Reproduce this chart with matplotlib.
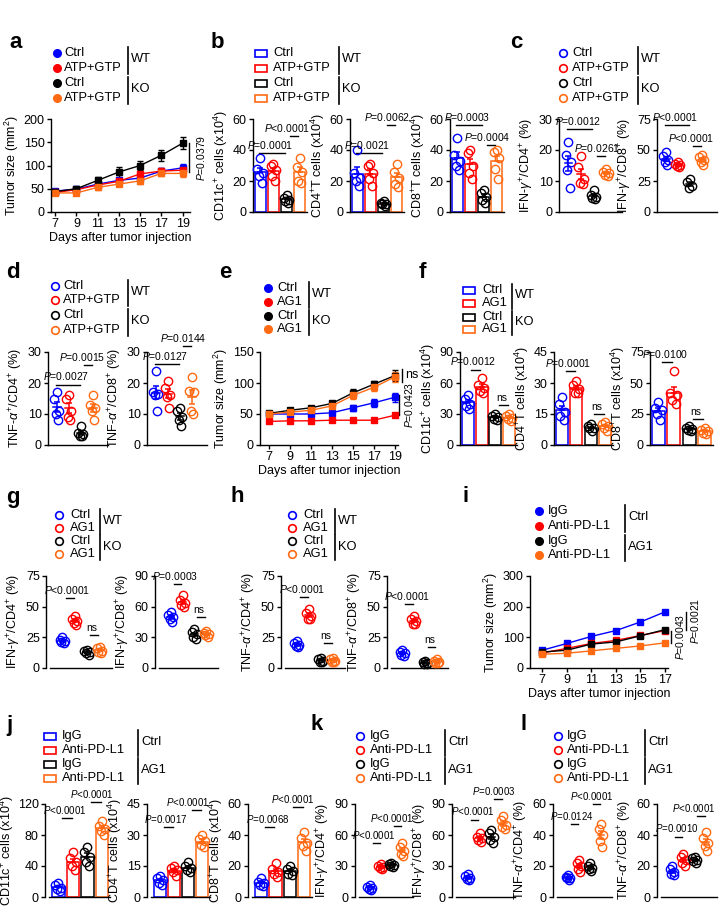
import numpy as np
import matplotlib
matplotlib.use('Agg')
import matplotlib.pyplot as plt
from matplotlib.patches import Rectangle

plt.rcParams['font.family'] = ['Liberation Sans', 'DejaVu Sans']
plt.rcParams['mathtext.fontset'] = 'custom'
plt.rcParams['mathtext.rm'] = 'Liberation Sans'
plt.rcParams['mathtext.it'] = 'Liberation Sans:italic'
plt.rcParams['mathtext.bf'] = 'Liberation Sans:bold'
plt.rcParams['axes.linewidth'] = 1.0

# ---------------- data ----------------
COLORS = ['#0000FF', '#FF0000', '#000000', '#FF6A13']
LEG_ATP = ['Ctrl', 'ATP+GTP', 'Ctrl', 'ATP+GTP']
LEG_AG1 = ['Ctrl', 'AG1', 'Ctrl', 'AG1']
LEG_PDL1 = ['IgG', 'Anti-PD-L1', 'IgG', 'Anti-PD-L1']
GRP_WTKO = ['WT', 'KO']
GRP_CTRLAG1 = ['Ctrl', 'AG1']

# panel a
days_a = [7, 9, 11, 13, 15, 17, 19]
a_ctrl_wt = [45, 49, 60, 68, 73, 88, 95]
a_atp_wt = [42, 48, 58, 66, 82, 88, 90]
a_ctrl_ko = [44, 50, 68, 86, 100, 122, 148]
a_atp_ko = [41, 41, 53, 60, 67, 83, 83]
a_err_ctrl_wt = [3, 4, 5, 5, 6, 6, 8]
a_err_atp_wt = [3, 4, 5, 5, 6, 6, 8]
a_err_ctrl_ko = [3, 5, 8, 10, 10, 12, 13]
a_err_atp_ko = [3, 4, 5, 5, 6, 6, 8]

# panel b
b_cd11c = [[35, 28, 25, 23, 19], [31, 30, 27, 23, 20], [11, 9, 8, 7, 6], [35, 29, 26, 20, 19]]
b_cd4 = [[40, 25, 22, 20, 17], [31, 30, 25, 21, 17], [7, 6, 5, 5, 4], [31, 26, 22, 18, 16]]
b_cd8 = [[48, 37, 33, 30, 27], [40, 38, 30, 25, 21], [14, 12, 10, 8, 6], [40, 39, 35, 28, 21]]

# panel c
c_ifn_cd4 = [[22.7, 18.5, 16, 13.5, 7.7], [18, 14.5, 10.5, 9.5, 9], [7, 5.5, 5, 4.5, 4.3], [14, 13, 12.5, 12, 11.5]]
c_ifn_cd8 = [[48, 45, 42, 40, 38], [40, 39, 38, 37, 36], [27, 24, 21, 19], [46, 44, 42, 40, 38]]

# panel d
d_tnf_cd4 = [[17, 15, 11, 10, 8], [16, 15, 11, 9, 8], [6, 4, 3.5, 3, 3], [16, 13, 12, 11, 8]]
d_tnf_cd8 = [[24, 17, 16.5, 16, 11], [20.5, 18.5, 16, 15.5, 12], [12, 11, 9, 8, 6], [22, 17.5, 17, 11, 10]]

# panel e
days_e = [7, 9, 11, 13, 15, 17, 19]
e_ctrl_wt = [50, 50, 50, 52, 60, 68, 77]
e_ag1_wt = [38, 39, 39, 40, 40, 40, 48]
e_ctrl_ko = [51, 56, 60, 67, 84, 98, 112]
e_ag1_ko = [50, 53, 56, 63, 80, 93, 110]
e_err_ctrl_wt = [2, 2, 2, 3, 5, 6, 7]
e_err_ag1_wt = [2, 2, 2, 2, 2, 2, 3]
e_err_ctrl_ko = [2, 2, 3, 4, 6, 6, 9]
e_err_ag1_ko = [2, 2, 3, 4, 6, 6, 8]

# panel f
f_cd11c = [[48, 45, 40, 38, 35], [65, 58, 55, 52, 50], [30, 28, 27, 25, 24], [30, 28, 26, 25, 23]]
f_cd4 = [[23, 20, 16, 14, 12], [31, 29, 27, 25, 25], [10, 9, 8, 8, 7], [11, 10, 9, 8, 7]]
f_cd8 = [[35, 30, 28, 25, 20], [60, 42, 40, 36, 33], [15, 14, 13, 12, 11], [14, 12, 11, 10, 9]]

# panel g
g_ifn_cd4 = [[25, 23, 22, 21, 20], [42, 40, 38, 37, 35], [15, 14, 13, 12, 11], [17, 16, 14, 13, 12]]
g_ifn_cd8 = [[55, 52, 50, 48, 45], [71, 67, 64, 62, 60], [38, 35, 33, 30, 28], [36, 34, 33, 32, 30]]

# panel h
h_tnf_cd4 = [[22, 20, 19, 18, 17], [48, 45, 42, 40, 40], [8, 7, 6, 5, 5], [8, 7, 6, 5, 5]]
h_tnf_cd8 = [[15, 13, 12, 11, 10], [42, 40, 38, 36, 36], [6, 5, 4, 3, 3], [7, 6, 5, 4, 4]]

# panel i
days_i = [7, 9, 11, 13, 15, 17]
i_igg_ctrl = [58, 80, 103, 122, 150, 183]
i_pdl1_ctrl = [49, 64, 80, 90, 106, 122]
i_igg_ag1 = [52, 58, 78, 85, 105, 125]
i_pdl1_ag1 = [45, 48, 56, 64, 72, 82]
i_err = [3, 4, 4, 5, 5, 6]

# panel j
j_cd11c = [[18, 15, 12, 10, 8], [58, 50, 45, 40, 35], [65, 58, 52, 45, 40], [98, 92, 88, 85, 80]]
j_cd4 = [[10, 9, 8, 7, 6], [15, 14, 13, 12, 10], [17, 15, 14, 13, 12], [30, 28, 27, 25, 24]]
j_cd8 = [[12, 10, 9, 8, 7], [22, 18, 16, 15, 13], [20, 18, 17, 15, 14], [42, 38, 35, 33, 30]]

# panel k
k_ifn_cd4 = [[12, 10, 9, 8, 7], [32, 30, 29, 28, 27], [33, 32, 31, 30, 29], [52, 48, 45, 42, 40]]
k_ifn_cd8 = [[22, 20, 18, 17, 16], [62, 58, 57, 55, 53], [65, 62, 58, 55, 52], [78, 75, 70, 68, 66]]

# panel l
l_tnf_cd4 = [[14, 13, 12, 12, 11], [24, 22, 20, 18, 16], [22, 20, 19, 18, 17], [47, 44, 40, 36, 32]]
l_tnf_cd8 = [[20, 18, 16, 15, 14], [28, 26, 24, 22, 20], [26, 25, 24, 23, 22], [42, 38, 35, 33, 30]]

# ---------------- figure ----------------
W, H = 720, 923
fig = plt.figure(figsize=(W / 100, H / 100), dpi=100)
ov = fig.add_axes([0, 0, 1, 1])
ov.set_xlim(0, W)
ov.set_ylim(H, 0)
ov.axis('off')

FS = 9
LFS = 9.3
JIT = np.array([0.0, -0.22, 0.2, -0.1, 0.12])

LBL_CD11C = 'CD11c$^{+}$ cells (x10$^{4}$)'
LBL_CD4 = 'CD4$^{+}$T cells (x10$^{4}$)'
LBL_CD8 = 'CD8$^{+}$T cells (x10$^{4}$)'
LBL_IFN4 = 'IFN-$\\gamma^{+}$/CD4$^{+}$ (%)'
LBL_IFN8 = 'IFN-$\\gamma^{+}$/CD8$^{+}$ (%)'
LBL_TNF4 = 'TNF-$\\alpha^{+}$/CD4$^{+}$ (%)'
LBL_TNF8 = 'TNF-$\\alpha^{+}$/CD8$^{+}$ (%)'
LBL_TUM = 'Tumor size (mm$^{2}$)'


def add_ax(l, t, r, b):
    return fig.add_axes([l / W, 1 - b / H, (r - l) / W, (b - t) / H])


def style(ax, ymax, step, ylabel, lpad=2):
    ax.set_ylim(0, ymax)
    ax.set_yticks(np.arange(0, ymax + 0.1, step))
    ax.spines['top'].set_visible(False)
    ax.spines['right'].set_visible(False)
    ax.tick_params(axis='both', length=3, width=1, labelsize=FS, pad=1.5)
    ax.set_ylabel(ylabel, fontsize=FS, labelpad=lpad)


def group_panel(box, groups, ymax, step, ylabel, sigs, bars=True, sfs=7.5,
                offset=0, xlim=None, lpad=2):
    l, t, r, b = box
    ax = add_ax(l + offset, t, r, b)
    for i, (vals, c) in enumerate(zip(groups, COLORS)):
        v = np.asarray(vals, float)
        m = v.mean()
        se = v.std(ddof=1) / np.sqrt(len(v))
        if bars:
            ax.bar(i, m, width=0.86, facecolor='white', edgecolor=c, linewidth=1.1, zorder=1)
            ax.errorbar(i, m, yerr=[[0], [se]], color=c, capsize=2.5, elinewidth=1.1,
                        capthick=1.1, zorder=2)
        else:
            ax.plot([i - 0.3, i + 0.3], [m, m], color=c, lw=1.1, zorder=2)
            ax.errorbar(i, m, yerr=se, color=c, capsize=2.5, elinewidth=1.1,
                        capthick=1.1, zorder=2)
        ax.plot(i + JIT[:len(v)], v, 'o', ms=6, mfc='none', mec=c, mew=1.0,
                zorder=3, clip_on=False)
    if xlim is None:
        xlim = (-0.55, 3.55) if bars else (-0.75, 4.25)
    ax.set_xlim(*xlim)
    ax.set_xticks([])
    style(ax, ymax, step, ylabel, lpad)
    if offset:
        ax.spines['left'].set_position(('outward', offset * 0.72))
    for s in sigs:
        g1, g2, y, txt = s[:4]
        dxt = s[4] if len(s) > 4 else -1.5
        if g2 - g1 == 1:
            x1, x2 = g1 + 0.25, g2 - 0.1
        else:
            x1, x2 = g1 - 0.1, g2 - 0.1
        ax.plot([x1, x2], [y, y], color='k', lw=1, clip_on=False)
        ax.annotate(txt, xy=((x1 + x2) / 2, y), xytext=(dxt, 1.5), textcoords='offset points',
                    ha='center', va='bottom', fontsize=sfs, annotation_clip=False)
    return ax


def line_panel(box, x, series, errs, xlim, ymax, step, marker='s'):
    ax = add_ax(*box)
    for y, e, c in zip(series, errs, COLORS):
        ax.errorbar(x, y, yerr=e, color=c, marker=marker, ms=4.2, lw=1.0, capsize=2,
                    elinewidth=1.0, capthick=1.0, clip_on=False)
    ax.set_xlim(*xlim)
    ax.set_xticks(x)
    style(ax, ymax, step, LBL_TUM)
    ax.set_xlabel('Days after tumor injection', fontsize=FS, labelpad=1)
    return ax


def vsig(ax, x, y1, y2, txt, rot=90, dx=3):
    ax.plot([x, x], [y1, y2], color='k', lw=1, clip_on=False)
    ax.annotate(txt, xy=(x, (y1 + y2) / 2), xytext=(dx, 0), textcoords='offset points',
                rotation=rot, ha='left', va='center', fontsize=7.5, annotation_clip=False)


def legend(kind, xm, xt, ys, labels, xb, glabels):
    for y, lab, c in zip(ys, labels, COLORS):
        if kind == 'filled':
            ov.plot(xm, y, 'o', ms=5.5, color=c)
        elif kind == 'open':
            ov.plot(xm, y, 'o', ms=5.5, mfc='none', mec=c, mew=1.2)
        else:
            ov.add_patch(Rectangle((xm - 6, y - 3.5), 12, 7, fill=False, ec=c, lw=1.2))
        ov.text(xt, y, lab, va='center', ha='left', fontsize=LFS)
    for k in range(2):
        y0, y1 = ys[2 * k], ys[2 * k + 1]
        ov.plot([xb, xb], [y0 - 6, y1 + 6], color='k', lw=1.2)
        ov.text(xb + 3, (y0 + y1) / 2 - 1, glabels[k], va='center', ha='left', fontsize=LFS)


def plabel(x, y, s):
    ov.text(x, y, s, fontsize=16, fontweight='bold', va='center', ha='left')


P = '$P$'

# ---- Row 1 ----
R1 = (119, 212)
ROWS1 = [53, 68, 83, 98]
plabel(9, 43, 'a'); plabel(211, 43, 'b'); plabel(510, 43, 'c')
legend('filled', 57, 64, ROWS1, LEG_ATP, 128, GRP_WTKO)
legend('rect', 261, 273, ROWS1, LEG_ATP, 339, GRP_WTKO)
legend('open', 563, 572, ROWS1, LEG_ATP, 638, GRP_WTKO)

axa = line_panel((51, R1[0], 190, R1[1]), days_a, [a_ctrl_wt, a_atp_wt, a_ctrl_ko, a_atp_ko],
                 [a_err_ctrl_wt, a_err_atp_wt, a_err_ctrl_ko, a_err_atp_ko], (6.6, 19.7), 200, 50)
vsig(axa, 19.65, 148, 86, P + '=0.0379', dx=4)

group_panel((253, R1[0], 307, R1[1]), b_cd11c, 60, 20, LBL_CD11C,
            [(0, 2, 38, P + '=0.0001'), (2, 3, 49, P + '<0.0001', -5)])
group_panel((350, R1[0], 404, R1[1]), b_cd4, 60, 20, LBL_CD4,
            [(0, 2, 38, P + '=0.0021'), (2, 3, 56, P + '=0.0062', -3)])
group_panel((450, R1[0], 504, R1[1]), b_cd8, 60, 20, LBL_CD8,
            [(0, 2, 56, P + '=0.0003'), (2, 3, 43, P + '=0.0004', -3)])
group_panel((559, R1[0], 622, R1[1]), c_ifn_cd4, 30, 10, LBL_IFN4,
            [(0, 2, 26.8, P + '=0.0012'), (2, 3, 18, P + '=0.0261', -3)], bars=False)
group_panel((657, R1[0], 717, R1[1]), c_ifn_cd8, 75, 25, LBL_IFN8,
            [(0, 2, 70, P + '<0.0001'), (2, 3, 53.5, P + '<0.0001', -4)], bars=False)

# ---- Row 2 ----
R2 = (352, 445)
plabel(6, 273, 'd'); plabel(219, 273, 'e'); plabel(419, 273, 'f')
legend('open', 55, 63, [286, 300, 315, 330], LEG_ATP, 128, GRP_WTKO)
legend('filled', 268, 277, [288, 302, 316, 329], LEG_AG1, 309, GRP_WTKO)
legend('rect', 469, 482, [290, 303, 317, 329], LEG_AG1, 512, GRP_WTKO)

group_panel((48, R2[0], 108, R2[1]), d_tnf_cd4, 30, 10, LBL_TNF4,
            [(0, 2, 19.5, P + '=0.0027'), (2, 3, 25.7, P + '=0.0015', -4)], bars=False)
group_panel((147, R2[0], 207, R2[1]), d_tnf_cd8, 30, 10, LBL_TNF8,
            [(0, 2, 26, P + '=0.0127'), (2, 3, 32, P + '=0.0144', -3)], bars=False)
axe = line_panel((260, R2[0], 398, R2[1]), days_e, [e_ctrl_wt, e_ag1_wt, e_ctrl_ko, e_ag1_ko],
                 [e_err_ctrl_wt, e_err_ag1_wt, e_err_ctrl_ko, e_err_ag1_ko], (6.15, 19.3), 150, 50)
axe.plot([19.7, 19.7], [123, 102], color='k', lw=1, clip_on=False)
axe.annotate('ns', xy=(19.7, 113), xytext=(2, 0), textcoords='offset points',
             ha='left', va='center', fontsize=FS, annotation_clip=False)
vsig(axe, 19.4, 80, 48, P + '=0.0423')

group_panel((460, R2[0], 517, R2[1]), f_cd11c, 90, 30, LBL_CD11C,
            [(0, 1, 73, P + '=0.0012'), (2, 3, 39, 'ns')])
group_panel((554, R2[0], 613, R2[1]), f_cd4, 45, 15, LBL_CD4,
            [(0, 1, 36, P + '=0.0001'), (2, 3, 15, 'ns')])
group_panel((650, R2[0], 713, R2[1]), f_cd8, 75, 25, LBL_CD8,
            [(0, 1, 67, P + '=0.0100'), (2, 3, 21, 'ns')])

# ---- Row 3 ----
R3 = (576, 668)
ROWS3 = [515, 528, 541, 554]
plabel(6, 497, 'g'); plabel(231, 497, 'h'); plabel(463, 497, 'i')
legend('open', 59, 70, ROWS3, LEG_AG1, 100, GRP_WTKO)
legend('open', 292, 303, ROWS3, LEG_AG1, 335, GRP_WTKO)
legend('filled', 539, 548, [511, 526, 541, 555], LEG_PDL1, 625, GRP_CTRLAG1)

SXL = (-1.0, 4.0)
group_panel((46, R3[0], 112, R3[1]), g_ifn_cd4, 75, 25, LBL_IFN4,
            [(0, 1, 57, P + '<0.0001'), (2, 3, 27, 'ns')], bars=False, offset=4, xlim=SXL)
group_panel((155, R3[0], 218, R3[1]), g_ifn_cd8, 90, 30, LBL_IFN8,
            [(0, 1, 82, P + '=0.0003'), (2, 3, 50, 'ns')], bars=False, offset=4, xlim=SXL)
group_panel((281, R3[0], 345, R3[1]), h_tnf_cd4, 75, 25, LBL_TNF4,
            [(0, 1, 58, P + '<0.0001'), (2, 3, 20, 'ns')], bars=False, offset=4, xlim=SXL)
group_panel((387, R3[0], 448, R3[1]), h_tnf_cd8, 75, 25, LBL_TNF8,
            [(0, 1, 52, P + '<0.0001'), (2, 3, 17, 'ns')], bars=False, offset=4, xlim=SXL)
axi = line_panel((530, R3[0], 668, R3[1]), days_i, [i_igg_ctrl, i_pdl1_ctrl, i_igg_ag1, i_pdl1_ag1],
                 [i_err] * 4, (6.0, 17.25), 300, 100)
vsig(axi, 17.5, 122, 82, P + '=0.0043', dx=2)
vsig(axi, 18.7, 183, 125, P + '=0.0021', dx=2)

# ---- Row 4 ----
R4 = (804, 897)
ROWS4 = [736, 750, 764, 778]
plabel(6, 725, 'j'); plabel(310, 725, 'k'); plabel(520, 725, 'l')
legend('rect', 50, 62, ROWS4, LEG_PDL1, 138, GRP_CTRLAG1)
legend('open', 360, 370, ROWS4, LEG_PDL1, 445, GRP_CTRLAG1)
legend('open', 558, 567, ROWS4, LEG_PDL1, 645, GRP_CTRLAG1)

BXL = (-0.65, 3.55)
group_panel((45, R4[0], 110, R4[1]), j_cd11c, 120, 40, LBL_CD11C,
            [(0, 1, 102, P + '<0.0001'), (2, 3, 122, P + '<0.0001', -3)], sfs=7,
            offset=4, xlim=BXL, lpad=1)
group_panel((147, R4[0], 210, R4[1]), j_cd4, 45, 15, LBL_CD4,
            [(0, 1, 34, P + '=0.0017'), (2, 3, 42, P + '<0.0001', -6)], sfs=7, offset=4, xlim=BXL)
group_panel((248, R4[0], 312, R4[1]), j_cd8, 60, 20, LBL_CD8,
            [(0, 1, 45, P + '=0.0068'), (2, 3, 58, P + '<0.0001', -4)], sfs=7, offset=4, xlim=BXL)
group_panel((355, R4[0], 413, R4[1]), k_ifn_cd4, 90, 30, LBL_IFN4,
            [(0, 1, 52, P + '<0.0001'), (2, 3, 69, P + '<0.0001', -4)], bars=False, sfs=7,
            offset=4, xlim=SXL)
group_panel((452, R4[0], 515, R4[1]), k_ifn_cd8, 90, 30, LBL_IFN8,
            [(0, 1, 75, P + '<0.0001'), (2, 3, 95, P + '=0.0003', -3)], bars=False, sfs=7,
            offset=4, xlim=SXL)
group_panel((553, R4[0], 612, R4[1]), l_tnf_cd4, 60, 20, LBL_TNF4,
            [(0, 1, 47, P + '=0.0124'), (2, 3, 60, P + '<0.0001', -3)], bars=False, sfs=7,
            offset=4, xlim=SXL)
group_panel((657, R4[0], 717, R4[1]), l_tnf_cd8, 60, 20, LBL_TNF8,
            [(0, 1, 39, P + '=0.0010'), (2, 3, 52, P + '<0.0001', -5)], bars=False, sfs=7,
            offset=4, xlim=SXL)

fig.savefig('out.png', dpi=100)
